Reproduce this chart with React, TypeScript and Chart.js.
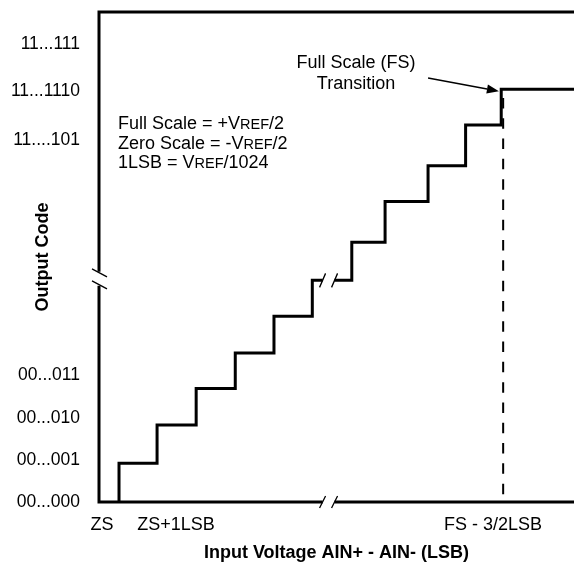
import React, { useEffect, useRef } from 'react';
import { Chart, registerables } from 'chart.js';

Chart.register(...registerables);

// ---- data (axis units: x in LSB from ZS, y in output code steps) ----
const xTickValues = [0.08, 1.99, 10.18];
const xTickLabels = ['ZS', 'ZS+1LSB', 'FS - 3/2LSB'];
const yTickValues = [0, 1.11, 2.23, 3.37, 9.6, 10.9, 12.15];
const yTickLabels = ['00...000', '00...001', '00...010', '00...011', '11....101', '11...1110', '11...111'];
const transitionX = [0.517, 1.5, 2.51, 3.52, 4.52, 5.51, 6.53, 7.39, 8.5, 9.47, 10.39];
const codeLevels = [1.03, 2.04, 3.01, 3.95, 4.93, 5.88, 6.89, 7.97, 8.92, 10.0, 10.95];
const fsTransitionX = 10.44;
const fsDashTop = 10.72;
const X_MIN = 0;
const X_MAX = 12.27;
const Y_MIN = 0;
const Y_MAX = 13;
const xBreakAt = 5.93;
const yBreakAt = 5.92;
const breakLevelIndex = 5;

const xTitle = 'Input Voltage AIN+ - AIN- (LSB)';
const yTitle = 'Output Code';
const fsLabelLines = ['Full Scale (FS)', 'Transition'];
const fsLabelAnchor = { x: 6.64, y: 11.65 };
const arrowFrom = { x: 8.5, y: 11.25 };
const arrowTo = { x: 10.33, y: 10.9 };
const infoLines = ['Full Scale = +V{REF}/2', 'Zero Scale = -V{REF}/2', '1LSB = V{REF}/1024'];
const infoAnchor = { x: 0.49, y: 10.06 };

const FONT = '"Liberation Sans", Arial, Helvetica, sans-serif';

function drawRich(ctx: CanvasRenderingContext2D, text: string, x: number, yCenter: number) {
  const parts = text.split(/(\{[^}]*\})/).filter((p) => p.length);
  let cx = x;
  const base = yCenter + 6.5;
  ctx.textAlign = 'left';
  ctx.textBaseline = 'alphabetic';
  for (const p of parts) {
    const small = p.startsWith('{');
    const t = small ? p.slice(1, -1) : p;
    ctx.font = `${small ? 14.5 : 18}px ${FONT}`;
    ctx.fillText(t, cx, base);
    cx += ctx.measureText(t).width;
  }
}

const overlayPlugin = {
  id: 'adcOverlay',
  afterDatasetsDraw(chart: any) {
    const { ctx, chartArea: ca, scales } = chart;
    const xs = scales.x;
    const ys = scales.y;
    const bx = xs.getPixelForValue(xBreakAt);
    const by = ys.getPixelForValue(yBreakAt);
    const stepY = ys.getPixelForValue(codeLevels[breakLevelIndex]);
    ctx.save();
    // gap in the staircase
    ctx.fillStyle = '#fff';
    ctx.fillRect(bx - 6, stepY - 3, 12, 6);
    // frame
    ctx.strokeStyle = '#000';
    ctx.lineWidth = 3;
    ctx.lineCap = 'butt';
    ctx.lineJoin = 'miter';
    ctx.beginPath();
    ctx.moveTo(ca.right, ca.top);
    ctx.lineTo(ca.left, ca.top);
    ctx.lineTo(ca.left, by - 7);
    ctx.moveTo(ca.left, by + 7);
    ctx.lineTo(ca.left, ca.bottom);
    ctx.lineTo(bx - 6, ca.bottom);
    ctx.moveTo(bx + 6, ca.bottom);
    ctx.lineTo(ca.right, ca.bottom);
    ctx.stroke();
    // break slashes
    ctx.lineWidth = 1.3;
    ctx.beginPath();
    for (const cx of [bx - 6, bx + 6]) {
      ctx.moveTo(cx - 3, ca.bottom + 6);
      ctx.lineTo(cx + 3, ca.bottom - 6);
      ctx.moveTo(cx - 3, stepY + 7);
      ctx.lineTo(cx + 3, stepY - 7);
    }
    for (const cy of [by - 6, by + 6]) {
      ctx.moveTo(ca.left - 7, cy - 4);
      ctx.lineTo(ca.left + 8, cy + 4);
    }
    ctx.stroke();
    // arrow
    const ax1 = xs.getPixelForValue(arrowFrom.x);
    const ay1 = ys.getPixelForValue(arrowFrom.y);
    const ax2 = xs.getPixelForValue(arrowTo.x);
    const ay2 = ys.getPixelForValue(arrowTo.y);
    const ang = Math.atan2(ay2 - ay1, ax2 - ax1);
    const hl = 12;
    const hw = 4.5;
    ctx.lineWidth = 1.4;
    ctx.beginPath();
    ctx.moveTo(ax1, ay1);
    ctx.lineTo(ax2 - hl * Math.cos(ang), ay2 - hl * Math.sin(ang));
    ctx.stroke();
    ctx.fillStyle = '#000';
    ctx.beginPath();
    ctx.moveTo(ax2, ay2);
    ctx.lineTo(ax2 - hl * Math.cos(ang) + hw * Math.sin(ang), ay2 - hl * Math.sin(ang) - hw * Math.cos(ang));
    ctx.lineTo(ax2 - hl * Math.cos(ang) - hw * Math.sin(ang), ay2 - hl * Math.sin(ang) + hw * Math.cos(ang));
    ctx.closePath();
    ctx.fill();
    // FS label
    ctx.font = `18px ${FONT}`;
    ctx.textAlign = 'center';
    ctx.textBaseline = 'middle';
    const fx = xs.getPixelForValue(fsLabelAnchor.x);
    const fy = ys.getPixelForValue(fsLabelAnchor.y);
    fsLabelLines.forEach((t, i) => ctx.fillText(t, fx, fy + i * 21));
    // info block
    const ix = xs.getPixelForValue(infoAnchor.x);
    const iy = ys.getPixelForValue(infoAnchor.y);
    infoLines.forEach((t, i) => drawRich(ctx, t, ix, iy + i * 19.5));
    ctx.restore();
  },
};

export default function App() {
  const canvasRef = useRef<HTMLCanvasElement | null>(null);

  useEffect(() => {
    if (!canvasRef.current) return;
    const stairs = [
      { x: transitionX[0], y: 0 },
      ...transitionX.map((x, i) => ({ x, y: codeLevels[i] })),
      { x: X_MAX, y: codeLevels[codeLevels.length - 1] },
    ];
    const chart = new Chart(canvasRef.current, {
      type: 'line',
      data: {
        datasets: [
          {
            data: stairs,
            stepped: 'before',
            borderColor: '#000',
            borderWidth: 3,
            pointRadius: 0,
            fill: false,
            borderJoinStyle: 'miter',
            borderCapStyle: 'butt',
            order: 1,
          },
          {
            data: [
              { x: fsTransitionX, y: fsDashTop },
              { x: fsTransitionX, y: 0 },
            ],
            borderColor: '#000',
            borderWidth: 2,
            borderDash: [10.5, 9.8],
            pointRadius: 0,
            fill: false,
            order: 2,
          },
        ],
      },
      options: {
        animation: false,
        responsive: false,
        devicePixelRatio: 1,
        layout: { padding: { top: 12, left: 0, right: 0, bottom: 0 } },
        plugins: { legend: { display: false }, tooltip: { enabled: false } },
        scales: {
          x: {
            type: 'linear',
            position: 'bottom',
            min: X_MIN,
            max: X_MAX,
            grid: { display: false, drawTicks: false },
            border: { display: false },
            afterBuildTicks: (axis: any) => {
              axis.ticks = xTickValues.map((v) => ({ value: v }));
            },
            afterFit: (axis: any) => {
              axis.height = 63;
              axis.paddingLeft = 0;
              axis.paddingRight = 0;
            },
            ticks: {
              autoSkip: false,
              maxRotation: 0,
              padding: 12,
              color: '#000',
              font: { family: FONT, size: 18 },
              callback: (_v: any, i: number) => xTickLabels[i],
            },
            title: {
              display: true,
              text: xTitle,
              color: '#000',
              font: { family: FONT, size: 18, weight: 'bold' },
              padding: { top: 0, bottom: 1 },
            },
          },
          y: {
            type: 'linear',
            position: 'left',
            min: Y_MIN,
            max: Y_MAX,
            grid: { display: false, drawTicks: false },
            border: { display: false },
            afterBuildTicks: (axis: any) => {
              axis.ticks = yTickValues.map((v) => ({ value: v }));
            },
            afterFit: (axis: any) => {
              axis.width = 99;
              axis.paddingTop = 0;
              axis.paddingBottom = 0;
            },
            ticks: {
              autoSkip: false,
              padding: 19,
              color: '#000',
              font: { family: FONT, size: 17.5 },
              callback: (_v: any, i: number) => yTickLabels[i],
            },
            title: {
              display: true,
              text: yTitle,
              color: '#000',
              font: { family: FONT, size: 18, weight: 'bold' },
              padding: { top: 32, bottom: 0 },
            },
          },
        },
      } as any,
      plugins: [overlayPlugin],
    });
    return () => chart.destroy();
  }, []);

  return (
    <div style={{ position: 'absolute', left: 0, top: 0, width: 574, height: 565, background: '#fff' }}>
      <canvas ref={canvasRef} width={574} height={565} style={{ width: 574, height: 565, display: 'block' }} />
    </div>
  );
}
